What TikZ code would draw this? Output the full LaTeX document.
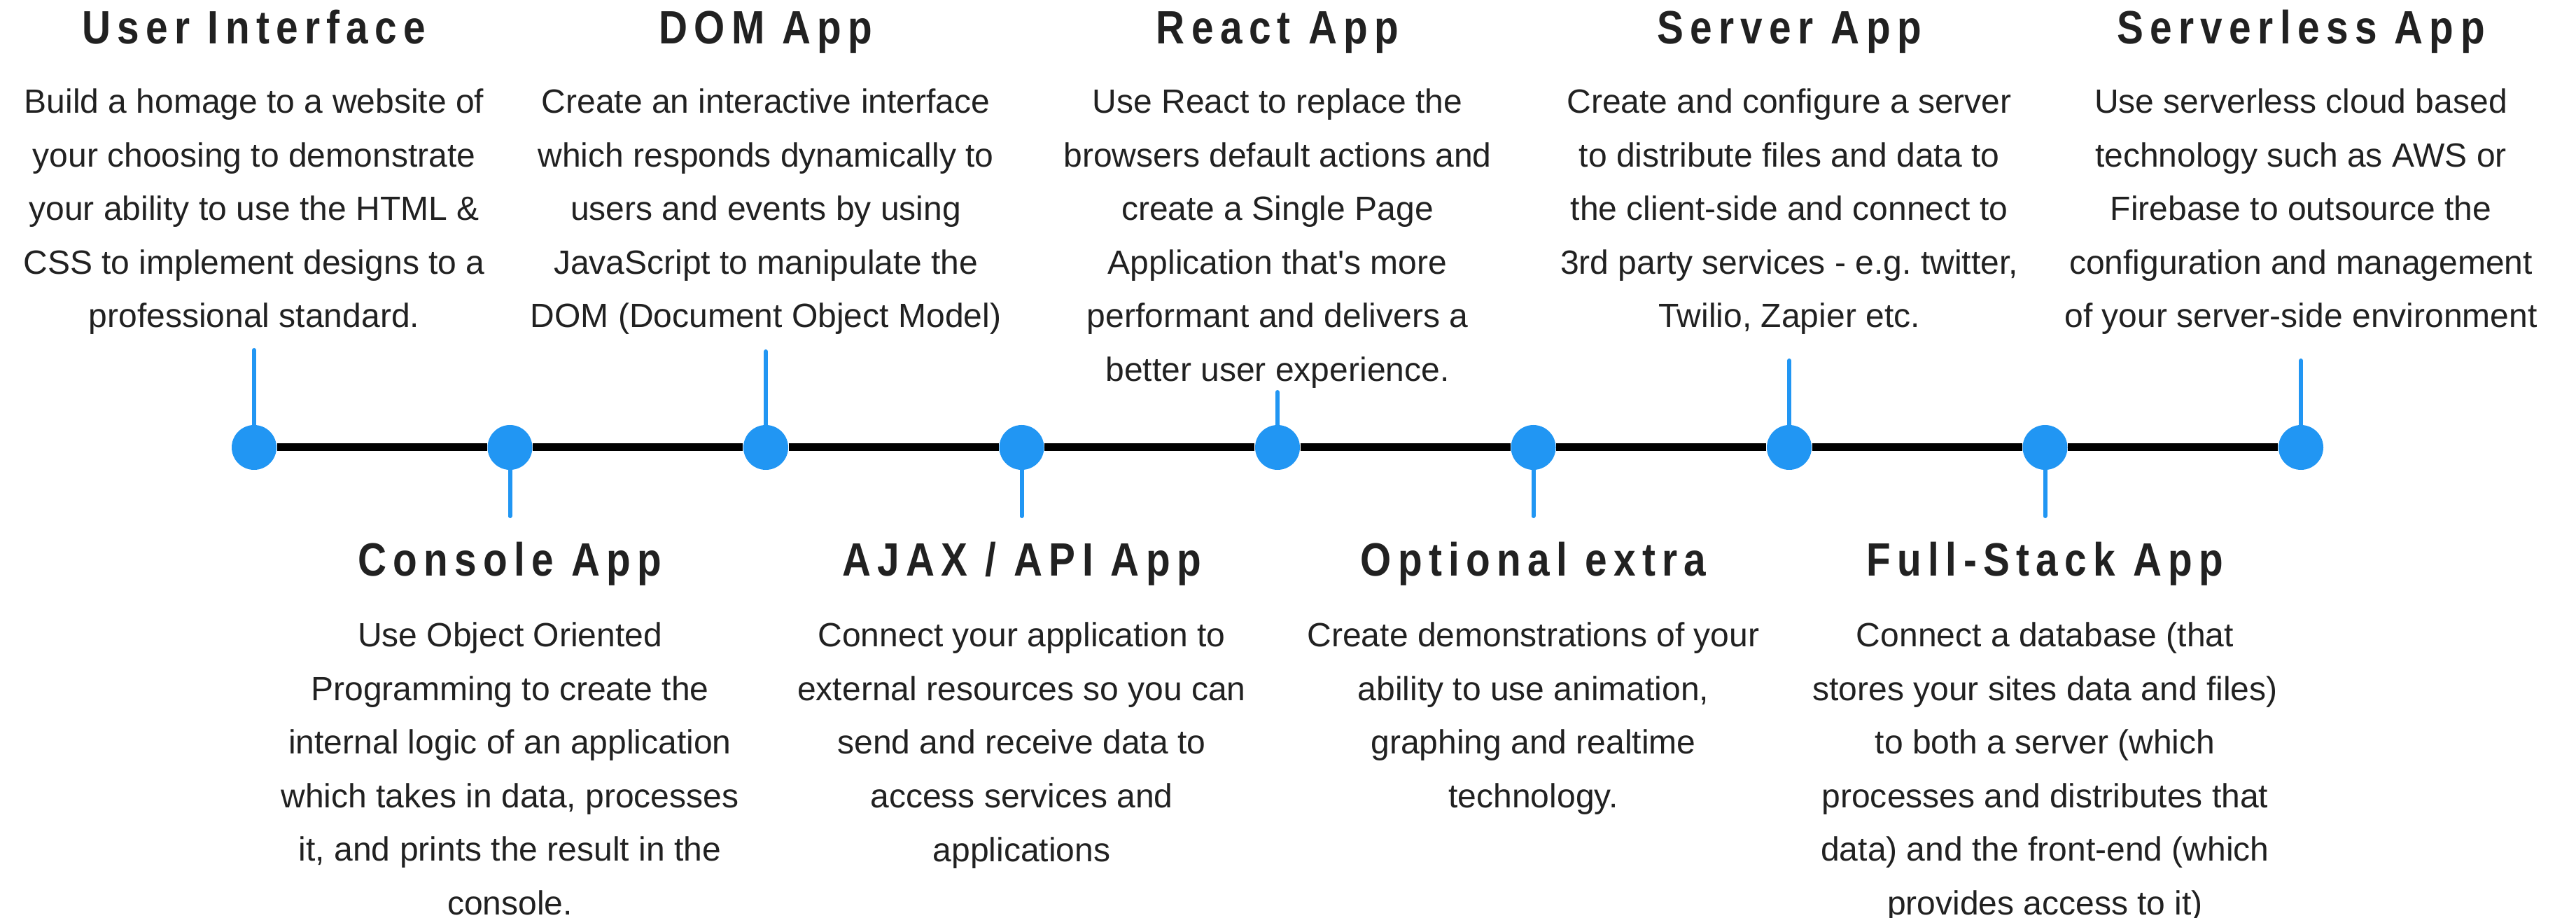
\documentclass[tikz,border=0pt]{standalone}
\usepackage{fontspec}
\setmainfont{Liberation Sans}
\newfontfamily\headfont{Liberation Sans}[FakeStretch=0.85,LetterSpace=14]
\usepackage{xcolor}
\definecolor{stepblue}{HTML}{2196F3}
\definecolor{inkgrey}{HTML}{212121}
\usetikzlibrary{calc}

\tikzset{
    milestone/.style={circle, fill=stepblue, minimum size=0.64cm, inner sep=0pt},
    spine/.style={line width=0.11cm, black},
    stem/.style={line width=0.06cm, stepblue, line cap=round},
    heading/.style={anchor=base, inner sep=0pt, text=inkgrey, font=\headfont\bfseries\fontsize{19}{23}\selectfont},
    blurb/.style={anchor=base, inner sep=0pt, align=center, text=inkgrey, font=\fontsize{13.66}{21.77}\selectfont},
}

\begin{document}
\begin{tikzpicture}
\useasboundingbox (0,-6.72) rectangle (36.8,6.39);

% milestones on the timeline
\node[milestone] (d1) at (3.63, 0) {};
\node[milestone] (d2) at (7.285, 0) {};
\node[milestone] (d3) at (10.94, 0) {};
\node[milestone] (d4) at (14.595, 0) {};
\node[milestone] (d5) at (18.25, 0) {};
\node[milestone] (d6) at (21.905, 0) {};
\node[milestone] (d7) at (25.56, 0) {};
\node[milestone] (d8) at (29.215, 0) {};
\node[milestone] (d9) at (32.87, 0) {};

\draw[spine] (d1) -- (d2);
\draw[spine] (d2) -- (d3);
\draw[spine] (d3) -- (d4);
\draw[spine] (d4) -- (d5);
\draw[spine] (d5) -- (d6);
\draw[spine] (d6) -- (d7);
\draw[spine] (d7) -- (d8);
\draw[spine] (d8) -- (d9);

% stems
\coordinate (s1) at (3.63, 1.39);
\coordinate (s2) at (7.285, -0.98);
\coordinate (s3) at (10.94, 1.37);
\coordinate (s4) at (14.595, -0.98);
\coordinate (s5) at (18.25, 0.79);
\coordinate (s6) at (21.905, -0.98);
\coordinate (s7) at (25.56, 1.24);
\coordinate (s8) at (29.215, -0.98);
\coordinate (s9) at (32.87, 1.24);
\draw[stem] (d1) -- (s1);
\draw[stem] (d2) -- (s2);
\draw[stem] (d3) -- (s3);
\draw[stem] (d4) -- (s4);
\draw[stem] (d5) -- (s5);
\draw[stem] (d6) -- (s6);
\draw[stem] (d7) -- (s7);
\draw[stem] (d8) -- (s8);
\draw[stem] (d9) -- (s9);

% above the line (blurbs sit on their last baseline)
\node[heading] (t1) at (3.63, 5.76) {User Interface};
\node[blurb] (b1) at (3.63, 1.71) {Build a homage to a website of\\your choosing to demonstrate\\your ability to use the HTML \&\\CSS to implement designs to a\\professional standard.};

\node[heading] (t3) at (10.94, 5.76) {DOM App};
\node[blurb] (b3) at (10.94, 1.71) {Create an interactive interface\\which responds dynamically to\\users and events by using\\JavaScript to manipulate the\\DOM (Document Object Model)};

\node[heading] (t5) at (18.25, 5.76) {React App};
\node[blurb] (b5) at (18.25, 0.945) {Use React to replace the\\browsers default actions and\\create a Single Page\\Application that\textquotesingle s more\\performant and delivers a\\better user experience.};

\node[heading] (t7) at (25.56, 5.76) {Server App};
\node[blurb] (b7) at (25.56, 1.71) {Create and configure a server\\to distribute files and data to\\the client-side and connect to\\3rd party services - e.g.\ twitter,\\Twilio, Zapier etc.};

\node[heading] (t9) at (32.87, 5.76) {Serverless App};
\node[blurb] (b9) at (32.87, 1.71) {Use serverless cloud based\\technology such as AWS or\\Firebase to outsource the\\configuration and management\\of your server-side environment};

% below the line
\node[heading] (t2) at (7.285, -1.84) {Console App};
\node[blurb] (b2) at (7.285, -6.675) {Use Object Oriented\\Programming to create the\\internal logic of an application\\which takes in data, processes\\it, and prints the result in the\\console.};

\node[heading] (t4) at (14.595, -1.84) {AJAX / API App};
\node[blurb] (b4) at (14.595, -5.91) {Connect your application to\\external resources so you can\\send and receive data to\\access services and\\applications};

\node[heading] (t6) at (21.905, -1.84) {Optional extra};
\node[blurb] (b6) at (21.905, -5.145) {Create demonstrations of your\\ability to use animation,\\graphing and realtime\\technology.};

\node[heading] (t8) at (29.215, -1.84) {Full-Stack App};
\node[blurb] (b8) at (29.215, -6.675) {Connect a database (that\\stores your sites data and files)\\to both a server (which\\processes and distributes that\\data) and the front-end (which\\provides access to it)};

\end{tikzpicture}
\end{document}
